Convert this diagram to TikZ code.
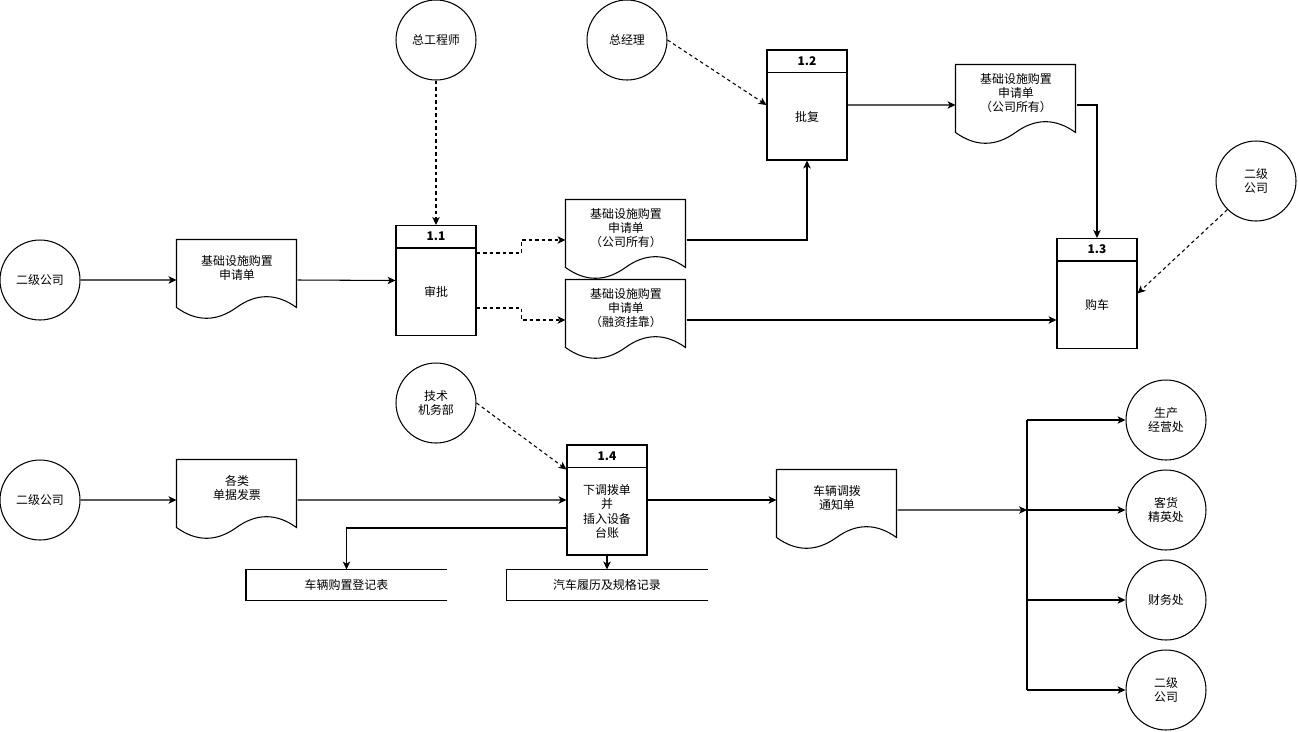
\documentclass[tikz,border=0pt]{standalone}
\usepackage{fontspec}
\setmainfont{Noto Sans CJK SC}
\usetikzlibrary{arrows.meta, positioning}
\newcommand{\dfdfont}{\fontsize{6.8}{8.2}\selectfont}
\tikzset{
  ext/.style={draw, circle, minimum size=1.6cm, inner sep=0pt, align=center},
  proc/.style={draw, minimum width=1.6cm, minimum height=2.2cm, inner sep=0pt},
  doc/.style={minimum width=2.4cm, minimum height=1.12cm, inner sep=0pt, align=center},
  store/.style={minimum width=4cm, minimum height=0.6cm, inner sep=0pt},
  flow/.style={-{Stealth[length=4.5pt, width=4.2pt, inset=1.2pt]}},
  ctrl/.style={flow, dash pattern=on 2pt off 1.7pt},
}

\begin{document}
\begin{tikzpicture}[x=0.02cm, y=-0.02cm, line width=0.6pt, font=\dfdfont]
    \useasboundingbox (0,0) rectangle (1298,731);

    \node[ext] (E1) at (40,280) {二级公司};
    \node[ext] (E2) at (436,40) {总工程师};
    \node[ext] (E3) at (627,40) {总经理};
    \node[ext] (E4) at (1256,181) {二级\\公司};
    \node[ext] (E5) at (436,403) {技术\\机务部};
    \node[ext] (E6) at (40,500) {二级公司};
    \node[ext] (E7) at (1166,420) {生产\\经营处};
    \node[ext] (E8) at (1166,510) {客货\\精英处};
    \node[ext] (E9) at (1166,600) {财务处};
    \node[ext] (E10) at (1166,690) {二级\\公司};

    \node[proc] (P1) at (436,280.5) {};
    \node[proc] (P2) at (807,105) {};
    \node[proc] (P3) at (1097,293.5) {};
    \node[proc] (P4) at (607,500) {};
    \foreach \p/\n/\t in {P1/1.1/审批, P2/1.2/批复, P3/1.3/购车, P4/1.4/{下调拨单\\并\\插入设备\\台账}} {
        \draw ([yshift=-0.46cm]\p.north west) -- ([yshift=-0.46cm]\p.north east);
        \node[font=\dfdfont\bfseries] (\p h) at ([yshift=-0.23cm]\p.north) {\n};
        \node[align=center] (\p t) at ([yshift=-0.23cm]\p.center) {\t};
    }

    \node[doc] (D1) at (237,268) {基础设施购置\\申请单};
    \node[doc] (D2) at (626,228) {基础设施购置\\申请单\\（公司所有）};
    \node[doc] (D3) at (626,308) {基础设施购置\\申请单\\（融资挂靠）};
    \node[doc] (D4) at (1016,93) {基础设施购置\\申请单\\（公司所有）};
    \node[doc] (D5) at (237,488) {各类\\单据发票};
    \node[doc] (D6) at (837,498) {车辆调拨\\通知单};
    \foreach \d in {D1,D2,D3,D4,D5,D6} {
        \draw[shift={(\d.north west)}] (0,0) -- (120,0) -- (120,68)
            .. controls (100,53.6) and (80,53.6) .. (60,68)
            .. controls (40,82.4) and (20,82.4) .. (0,68) -- cycle;
        \coordinate (\d w) at ([yshift=-0.24cm]\d.west);
        \coordinate (\d e) at ([yshift=-0.24cm]\d.east);
    }

    \node[store] (S1) at (346.5,585) {车辆购置登记表};
    \node[store] (S2) at (607,585) {汽车履历及规格记录};
    \foreach \s in {S1,S2}
        \draw (\s.north east) -- (\s.north west) -- (\s.south west) -- (\s.south east);

    \draw[flow] (E1) -- (D1w);
    \draw[flow] (D1e) -- (P1.west);
    \draw[ctrl] (E2) -- (P1);
    \draw[ctrl] ([yshift=0.55cm]P1.east) -- ++(45,0) |- (D2w);
    \draw[ctrl] ([yshift=-0.55cm]P1.east) -- ++(45,0) |- (D3w);
    \draw[flow] (D2e) -| (P2.south);
    \draw[ctrl] (E3.east) -- (P2.west);
    \draw[flow] (P2.east) -- (D4w);
    \draw[flow] (D4e) -| (P3.north);
    \draw[flow] (D3e) -- (D3e -| P3.west);
    \draw[ctrl] (E4.south west) -- (P3.east);

    \draw[ctrl] (E5.east) -- ([yshift=-0.5cm]P4.north west);
    \draw[flow] (E6) -- (D5w);
    \draw[flow] (D5e) -- (P4.west);
    \draw[flow] ([yshift=-0.56cm]P4.west) -| (S1.north);
    \draw[flow] (P4.south) -- (S2.north);
    \draw[flow] (P4.east) -- (P4.east -| D6w);
    \coordinate (hub) at (1027,510);
    \draw[flow] (D6e) -- (hub);
    \draw (hub |- E7) -- (hub |- E10);
    \foreach \e in {E7,E8,E9,E10}
        \draw[flow] (hub |- \e) -- (\e.west);
\end{tikzpicture}
\end{document}
